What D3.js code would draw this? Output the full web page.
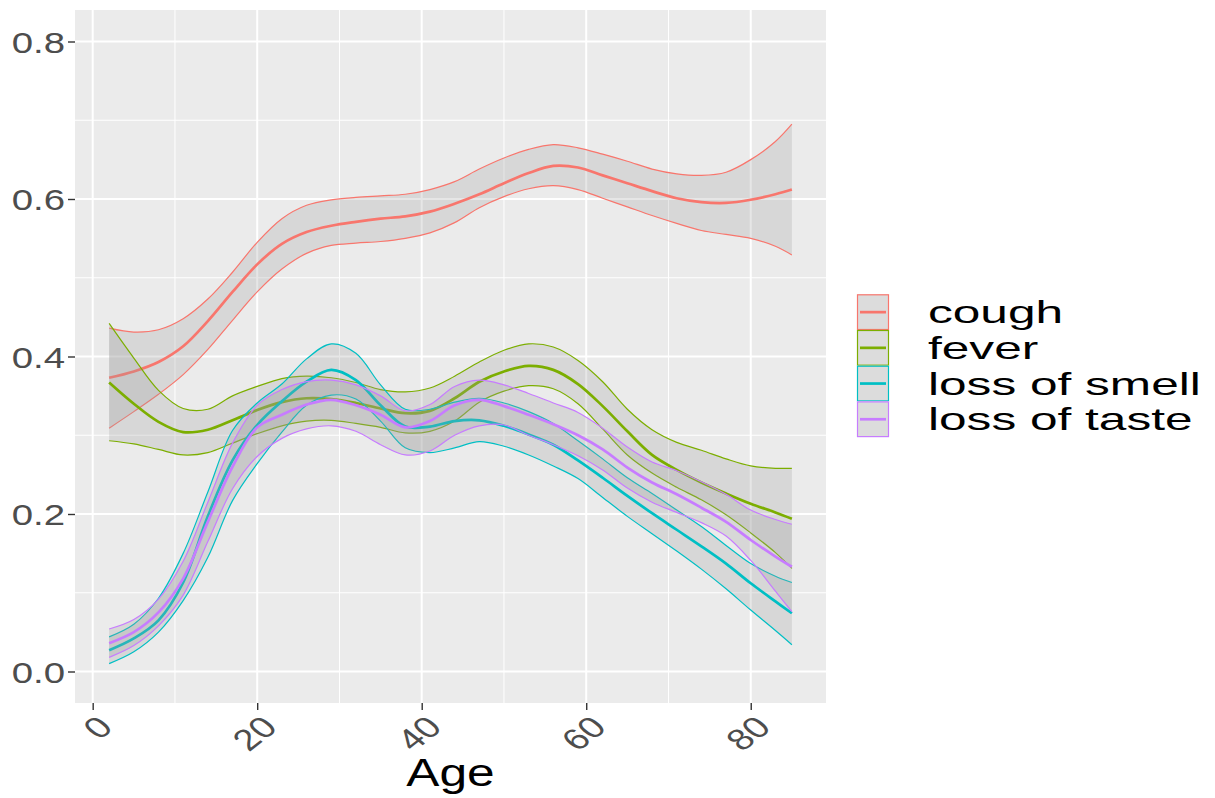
<!DOCTYPE html>
<html>
<head>
<meta charset="utf-8">
<script src="https://cdn.jsdelivr.net/npm/d3@7"></script>
<style>
  html, body { margin: 0; padding: 0; background: #ffffff; }
  svg { display: block; }
</style>
</head>
<body>
<svg id="chart" width="1215" height="798"></svg>
<script>
// Smoothed symptom prevalence by age, with confidence bands
const ages = [2, 5, 8, 11, 14, 17, 20, 23, 26, 29, 32, 35, 38, 41, 44, 47, 50, 53, 56, 59, 62, 65, 68, 71, 74, 77, 80, 83, 85];

const coughMean = [0.373, 0.381, 0.393, 0.413, 0.445, 0.482, 0.517, 0.543, 0.558, 0.566, 0.571, 0.575, 0.578, 0.584, 0.594, 0.606, 0.620, 0.633, 0.642, 0.640, 0.630, 0.620, 0.610, 0.601, 0.596, 0.595, 0.599, 0.606, 0.612];
const coughHi   = [0.436, 0.431, 0.434, 0.448, 0.473, 0.507, 0.545, 0.575, 0.592, 0.599, 0.602, 0.604, 0.606, 0.612, 0.622, 0.638, 0.652, 0.663, 0.669, 0.665, 0.657, 0.648, 0.638, 0.632, 0.630, 0.634, 0.650, 0.673, 0.695];
const coughLo   = [0.309, 0.330, 0.352, 0.377, 0.409, 0.446, 0.482, 0.511, 0.531, 0.541, 0.544, 0.546, 0.550, 0.557, 0.570, 0.589, 0.603, 0.613, 0.617, 0.612, 0.601, 0.590, 0.579, 0.569, 0.560, 0.555, 0.550, 0.540, 0.529];

const feverMean = [0.367, 0.340, 0.317, 0.304, 0.307, 0.319, 0.332, 0.342, 0.347, 0.346, 0.341, 0.334, 0.328, 0.331, 0.347, 0.368, 0.381, 0.388, 0.383, 0.365, 0.337, 0.305, 0.275, 0.256, 0.240, 0.226, 0.213, 0.202, 0.194];
const feverHi   = [0.442, 0.398, 0.357, 0.334, 0.333, 0.350, 0.362, 0.372, 0.375, 0.373, 0.367, 0.358, 0.355, 0.360, 0.375, 0.393, 0.408, 0.416, 0.412, 0.395, 0.368, 0.333, 0.307, 0.291, 0.281, 0.270, 0.261, 0.258, 0.258];
const feverLo   = [0.293, 0.289, 0.282, 0.275, 0.278, 0.290, 0.302, 0.312, 0.318, 0.319, 0.315, 0.310, 0.303, 0.305, 0.318, 0.342, 0.356, 0.363, 0.359, 0.340, 0.308, 0.275, 0.252, 0.234, 0.218, 0.199, 0.176, 0.151, 0.131];

const smellMean = [0.027, 0.042, 0.065, 0.113, 0.197, 0.268, 0.313, 0.343, 0.368, 0.383, 0.370, 0.338, 0.311, 0.311, 0.318, 0.319, 0.312, 0.301, 0.288, 0.268, 0.246, 0.223, 0.201, 0.180, 0.159, 0.137, 0.112, 0.089, 0.074];
const smellHi   = [0.044, 0.060, 0.093, 0.150, 0.228, 0.306, 0.341, 0.365, 0.397, 0.416, 0.404, 0.364, 0.333, 0.333, 0.342, 0.347, 0.341, 0.330, 0.315, 0.293, 0.270, 0.246, 0.226, 0.205, 0.184, 0.160, 0.137, 0.121, 0.113];
const smellLo   = [0.010, 0.025, 0.050, 0.090, 0.145, 0.217, 0.264, 0.304, 0.338, 0.351, 0.346, 0.318, 0.284, 0.278, 0.284, 0.292, 0.286, 0.275, 0.261, 0.245, 0.221, 0.197, 0.175, 0.153, 0.130, 0.105, 0.078, 0.052, 0.034];

const tasteMean = [0.036, 0.050, 0.075, 0.118, 0.190, 0.260, 0.310, 0.326, 0.339, 0.345, 0.338, 0.326, 0.310, 0.318, 0.338, 0.345, 0.337, 0.326, 0.314, 0.300, 0.282, 0.259, 0.240, 0.225, 0.208, 0.190, 0.167, 0.146, 0.133];
const tasteHi   = [0.054, 0.066, 0.092, 0.140, 0.215, 0.290, 0.338, 0.358, 0.368, 0.370, 0.364, 0.350, 0.331, 0.339, 0.362, 0.370, 0.364, 0.353, 0.341, 0.329, 0.309, 0.285, 0.266, 0.255, 0.241, 0.225, 0.205, 0.193, 0.187];
const tasteLo   = [0.018, 0.033, 0.058, 0.097, 0.165, 0.232, 0.273, 0.296, 0.308, 0.312, 0.305, 0.288, 0.275, 0.280, 0.300, 0.312, 0.313, 0.300, 0.288, 0.274, 0.256, 0.233, 0.215, 0.202, 0.189, 0.172, 0.141, 0.102, 0.076];

const symptoms = ["cough", "fever", "loss of smell", "loss of taste"];
const colors = ["#F8766D", "#7CAE00", "#00BFC4", "#C77CFF"];

const xTicks = [0, 20, 40, 60, 80];
const xMinor = [10, 30, 50, 70];
const yTicks = [0, 0.2, 0.4, 0.6, 0.8];
const yMinor = [0.1, 0.3, 0.5, 0.7];
const xTitle = "Age";

const series = [
  { name: symptoms[0], mean: coughMean, lo: coughLo, hi: coughHi },
  { name: symptoms[1], mean: feverMean, lo: feverLo, hi: feverHi },
  { name: symptoms[2], mean: smellMean, lo: smellLo, hi: smellHi },
  { name: symptoms[3], mean: tasteMean, lo: tasteLo, hi: tasteHi }
];

// Layout
const panel = { left: 75, right: 826, top: 10, bottom: 703 };
const stretch = 1.28;           // horizontal text stretch
const font = "'Liberation Sans', Arial, sans-serif";

const x = d3.scaleLinear().domain([-2.15, 89.15]).range([panel.left, panel.right]);
const y = d3.scaleLinear().domain([-0.04, 0.84]).range([panel.bottom, panel.top]);
const color = d3.scaleOrdinal().domain(symptoms).range(colors);

const svg = d3.select("#chart");
svg.append("rect").attr("width", 1215).attr("height", 798).attr("fill", "#ffffff");

// Panel background
svg.append("rect")
  .attr("x", panel.left).attr("y", panel.top)
  .attr("width", panel.right - panel.left).attr("height", panel.bottom - panel.top)
  .attr("fill", "#EBEBEB");

const grid = svg.append("g");
// Minor gridlines
grid.selectAll(".ymin").data(yMinor).join("line")
  .attr("x1", panel.left).attr("x2", panel.right)
  .attr("y1", d => y(d)).attr("y2", d => y(d))
  .attr("stroke", "#ffffff").attr("stroke-width", 1);
grid.selectAll(".xmin").data(xMinor).join("line")
  .attr("y1", panel.top).attr("y2", panel.bottom)
  .attr("x1", d => x(d)).attr("x2", d => x(d))
  .attr("stroke", "#ffffff").attr("stroke-width", 1);
// Major gridlines
grid.selectAll(".ymaj").data(yTicks).join("line")
  .attr("x1", panel.left).attr("x2", panel.right)
  .attr("y1", d => y(d)).attr("y2", d => y(d))
  .attr("stroke", "#ffffff").attr("stroke-width", 2);
grid.selectAll(".xmaj").data(xTicks).join("line")
  .attr("y1", panel.top).attr("y2", panel.bottom)
  .attr("x1", d => x(d)).attr("x2", d => x(d))
  .attr("stroke", "#ffffff").attr("stroke-width", 2);

// Smoothers: ribbon with coloured edges, then the fitted line, per symptom
const curve = d3.curveCatmullRom.alpha(0.5);
const area = d3.area().curve(curve)
  .x((d, i) => x(ages[i])).y0(d => y(d[0])).y1(d => y(d[1]));
const line = d3.line().curve(curve)
  .x((d, i) => x(ages[i])).y(d => y(d));

const plot = svg.append("g");
series.forEach(s => {
  const g = plot.append("g");
  const band = s.lo.map((v, i) => [v, s.hi[i]]);
  g.append("path").attr("d", area(band))
    .attr("fill", "#9a9a9a").attr("fill-opacity", 0.25).attr("stroke", "none");
  g.append("path").attr("d", line(s.hi))
    .attr("fill", "none").attr("stroke", color(s.name)).attr("stroke-width", 1.2);
  g.append("path").attr("d", line(s.lo))
    .attr("fill", "none").attr("stroke", color(s.name)).attr("stroke-width", 1.2);
  g.append("path").attr("d", line(s.mean))
    .attr("fill", "none").attr("stroke", color(s.name)).attr("stroke-width", 2.7);
});

// Y axis
const gY = svg.append("g").attr("transform", `translate(${panel.left},0)`)
  .call(d3.axisLeft(y).tickValues(yTicks).tickSize(7).tickFormat(d3.format(".1f")));
gY.select(".domain").remove();
gY.selectAll(".tick line").attr("stroke", "#333333").attr("stroke-width", 1.4);
gY.selectAll(".tick text")
  .attr("x", null).attr("dy", null)
  .attr("transform", `translate(-10,10.7) scale(${stretch},1)`)
  .attr("text-anchor", "end")
  .attr("font-family", font).attr("font-size", 30).attr("fill", "#4d4d4d");

// X axis
const gX = svg.append("g").attr("transform", `translate(0,${panel.bottom})`)
  .call(d3.axisBottom(x).tickValues(xTicks).tickSize(7).tickFormat(d3.format("d")));
gX.select(".domain").remove();
gX.selectAll(".tick line").attr("stroke", "#333333").attr("stroke-width", 1.4);
gX.selectAll(".tick text")
  .attr("y", null).attr("dy", null)
  .attr("transform", `translate(21.3,26) scale(${stretch},1) rotate(-45)`)
  .attr("text-anchor", "end")
  .attr("font-family", font).attr("font-size", 30).attr("fill", "#4d4d4d");

// Axis title
svg.append("text")
  .attr("transform", `translate(${(panel.left + panel.right) / 2},786) scale(${stretch},1)`)
  .attr("text-anchor", "middle")
  .attr("font-family", font).attr("font-size", 38.8).attr("fill", "#000000")
  .text(xTitle);

// Legend
const legend = svg.append("g");
const keyX = 857, keyW = 32, keyH = 35.7, keyTop = 294.3;
const labelSize = 32, labelStretch = 1.55;
symptoms.forEach((name, i) => {
  const top = keyTop + i * keyH;
  const cy = top + keyH / 2;
  legend.append("rect")
    .attr("x", keyX).attr("y", top).attr("width", keyW).attr("height", keyH)
    .attr("fill", "#f2f2f2");
  legend.append("rect")
    .attr("x", keyX + 0.5).attr("y", top + 0.5).attr("width", keyW - 1).attr("height", keyH - 1)
    .attr("fill", "#9a9a9a").attr("fill-opacity", 0.25)
    .attr("stroke", color(name)).attr("stroke-width", 1.2);
  legend.append("line")
    .attr("x1", keyX + 3).attr("x2", keyX + keyW - 3)
    .attr("y1", cy).attr("y2", cy)
    .attr("stroke", color(name)).attr("stroke-width", 2.7);
  legend.append("text")
    .attr("transform", `translate(928,${cy + 11.2}) scale(${labelStretch},1)`)
    .attr("font-family", font).attr("font-size", labelSize).attr("fill", "#000000")
    .text(name);
});
</script>
</body>
</html>
